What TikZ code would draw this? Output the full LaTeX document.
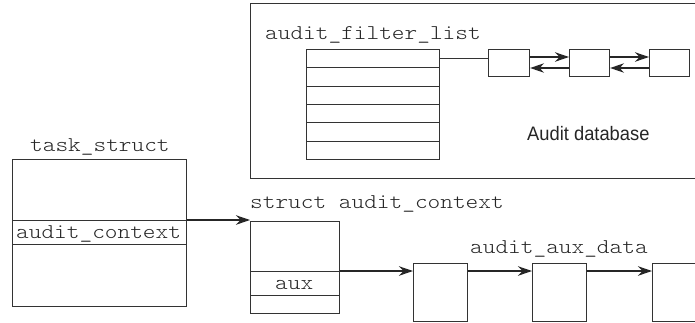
\documentclass[tikz,border=0pt]{standalone}
\usepackage{fontspec}
\setmainfont{Liberation Sans}
\newfontfamily\narrowsans{Liberation Sans}[FakeStretch=0.94]
\newfontfamily\mono{lmmonolt10-regular.otf}[FakeStretch=1.15]
\usetikzlibrary{arrows.meta}
\begin{document}
\begin{tikzpicture}[x=1pt,y=-1pt,
  ln/.style={draw=black!80, line width=1.1pt},
  box/.style={ln, rectangle, inner sep=0pt, anchor=north west},
  lbl/.style={inner sep=0pt, anchor=base west, font=\mono\fontsize{21}{21}\selectfont, text=black!85},
  arr/.style={draw=black!85, line width=1.5pt, -{Stealth[length=14pt,width=9.5pt]}},
]
\useasboundingbox (0,0) rectangle (695,322);
\clip (0,0) rectangle (695,322);
% audit database frame
\node[box, minimum width=470pt, minimum height=175pt] (db) at (250,3) {};
% filter list table
\foreach \i in {0,...,5}{
  \node[box, minimum width=133pt, minimum height=18.33pt] (r\i) at (306,{49+18.33*\i}) {};
}
\node[box, minimum width=41pt, minimum height=27pt] (b1) at (488,49) {};
\node[box, minimum width=40pt, minimum height=27pt] (b2) at (569,49) {};
\node[box, minimum width=40pt, minimum height=27pt] (b3) at (649,49) {};
\draw[ln] (r0.east) -- (r0.east -| b1.west);
\draw[arr] ([yshift=-8pt]b1.north east) -- ([yshift=-8pt]b2.north west);
\draw[arr] ([yshift=-19pt]b2.north west) -- ([yshift=-19pt]b1.north east);
\draw[arr] ([yshift=-8pt]b2.north east) -- ([yshift=-8pt]b3.north west);
\draw[arr] ([yshift=-19pt]b3.north west) -- ([yshift=-19pt]b2.north east);
% task_struct
\node[box, minimum width=174pt, minimum height=61pt] (ts1) at (12,159) {};
\node[box, minimum width=174pt, minimum height=24pt] (ts2) at (12,220) {};
\node[box, minimum width=174pt, minimum height=62pt] (ts3) at (12,244) {};
% struct audit_context
\node[box, minimum width=89pt, minimum height=50pt] (ac1) at (250,221) {};
\node[box, minimum width=89pt, minimum height=24pt] (ac2) at (250,271) {};
\node[box, minimum width=89pt, minimum height=18pt] (ac3) at (250,295) {};
% aux data boxes
\node[box, minimum width=54pt, minimum height=58pt] (a1) at (413,263) {};
\node[box, minimum width=54pt, minimum height=58pt] (a2) at (532,263) {};
\node[box, minimum width=60pt, minimum height=58pt] (a3) at (652,263) {};
\draw[arr] (ts2.north east) -- (ts2.north east -| ac1.west);
\draw[arr] (ac2.north east) -- (ac2.north east -| a1.west);
\draw[arr] ([yshift=-8pt]a1.north east) -- ([yshift=-8pt]a2.north west);
\draw[arr] ([yshift=-8pt]a2.north east) -- ([yshift=-8pt]a3.north west);
% labels
\node[lbl] (lfl) at (265,39) {audit\_filter\_list};
\node[lbl] (lts) at (30,151) {task\_struct};
\node[lbl] (lac) at (16,238) {audit\_context};
\node[lbl] (lsac) at (250,208) {struct audit\_context};
\node[lbl] (laux) at (275,289) {aux};
\node[lbl] (laad) at (470,253) {audit\_aux\_data};
\node[inner sep=0pt, anchor=base west, font=\narrowsans\fontsize{19.5}{19.5}\selectfont, text=black!85] (ldb) at (527,140) {Audit database};
\end{tikzpicture}
\end{document}
